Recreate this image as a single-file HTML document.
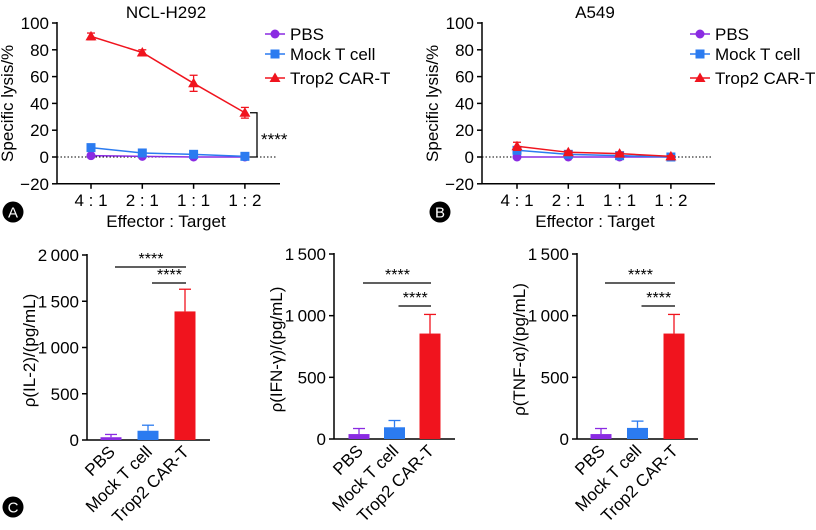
<!DOCTYPE html>
<html><head><meta charset="utf-8">
<style>
body{margin:0;background:#fff;}
svg{display:block;font-family:"Liberation Sans","Noto Sans CJK SC",sans-serif;}
</style></head>
<body>
<svg id="fig" width="816" height="530" viewBox="0 0 816 530"></svg>
<script>
// ---- Data ----
const ratios = ["4 : 1","2 : 1","1 : 1","1 : 2"];
const seriesNames = ["PBS","Mock T cell","Trop2 CAR-T"];
const lysisTicks = [100,80,60,40,20,0,-20];
const h292PBS = [1,0.5,0,0];
const h292Mock = [7,3,2,0.5];
const h292Trop2 = [90,78,55,33];
const h292Trop2Err = [2.5,2,6,4];
const a549PBS = [0,0,0,0];
const a549Mock = [5,2,1,0];
const a549Trop2 = [8,3.5,2.5,0.5];
const a549Trop2Err = [3,1,1,0.5];
const cytoCats = ["PBS","Mock T cell","Trop2 CAR-T"];
const il2Values = [30,100,1390];
const il2Errors = [30,60,240];
const il2Ticks = [0,500,1000,1500,2000];
const ifnValues = [40,95,855];
const ifnErrors = [45,55,155];
const tnfValues = [40,90,855];
const tnfErrors = [45,55,155];
const cyto15Ticks = [0,500,1000,1500];

const NS="http://www.w3.org/2000/svg";
const svg=document.getElementById('fig');
const colors=["#8a2be2","#2b7bf0","#f0141e"];
const FS=17;
function el(tag,attrs,parent,text){const e=document.createElementNS(NS,tag);for(const k in attrs)e.setAttribute(k,attrs[k]);if(text!==undefined)e.textContent=text;(parent||svg).appendChild(e);return e;}
function fmt(v){return v>=1000?String(v).replace(/(\d)(\d{3})$/,"$1\u2009$2"):(v<0?"\u2212"+(-v):String(v));}

function label(cx,cy,ch,name){
  const g=el('g',{});
  
  
  el('circle',{cx:cx,cy:cy,r:10.5,fill:'#000'},g);
  el('text',{x:cx,y:cy+5.5,'text-anchor':'middle','font-size':15,fill:'#fff'},g,ch);
}

function marker(g,type,x,y,c){
  if(type===0) el('circle',{cx:x,cy:y,r:4.5,fill:c},g);
  else if(type===1) el('rect',{x:x-4.5,y:y-4.5,width:9,height:9,fill:c},g);
  else el('polygon',{points:`${x},${y-5.5} ${x+5.5},${y+4} ${x-5.5},${y+4}`,fill:c},g);
}

function linePanel(o){
  const g=el('g',{});
  
  
  const y=v=>o.y0+(v-0)*(o.y100-o.y0)/100;
  const x=i=>o.xs[0]+i*o.dx;
  el('line',{x1:o.ax,y1:y(100)-1,x2:o.ax,y2:y(-20),stroke:'#000','stroke-width':1.5},g);
  el('line',{x1:o.ax,y1:y(-20),x2:o.axEnd,y2:y(-20),stroke:'#000','stroke-width':1.5},g);
  el('line',{x1:o.ax,y1:y(0),x2:o.axEnd-3,y2:y(0),stroke:'#000','stroke-width':1,'stroke-dasharray':'1.5,2'},g);
  lysisTicks.forEach(t=>{
    el('line',{x1:o.ax-5,y1:y(t),x2:o.ax,y2:y(t),stroke:'#000','stroke-width':1.5},g);
    const tl=el('text',{x:o.ax-8,y:y(t)+6,'text-anchor':'end','font-size':FS},g,fmt(t));
    
    
  });
  ratios.forEach((r,i)=>{
    el('line',{x1:x(i),y1:y(-20),x2:x(i),y2:y(-20)+5,stroke:'#000','stroke-width':1.5},g);
    const tl=el('text',{x:x(i),y:y(-20)+22,'text-anchor':'middle','font-size':FS},g,r);
    
    
  });
  const t=el('text',{x:o.titleX,y:18,'text-anchor':'middle','font-size':FS},g,o.title);
  
  
  const yt=el('text',{transform:`translate(${o.ax-44},${y(40)}) rotate(-90)`,'text-anchor':'middle','font-size':FS},g,'Specific lysis/%');
  
  
  const xt=el('text',{x:o.titleX,y:227,'text-anchor':'middle','font-size':FS},g,o.xTitle);
  
  
  const data=[o.pbs,o.mock,o.trop];
  data.forEach((arr,s)=>{
    const sg=el('g',{},g);
    
    
    el('polyline',{points:arr.map((v,i)=>x(i)+','+y(v)).join(' '),fill:'none',stroke:colors[s],'stroke-width':1.5},sg);
    if(s===2){
      arr.forEach((v,i)=>{const e=o.err[i];
        el('line',{x1:x(i),y1:y(v+e),x2:x(i),y2:y(v-e),stroke:colors[s],'stroke-width':1.3},sg);
        el('line',{x1:x(i)-4,y1:y(v+e),x2:x(i)+4,y2:y(v+e),stroke:colors[s],'stroke-width':1.3},sg);
        el('line',{x1:x(i)-4,y1:y(v-e),x2:x(i)+4,y2:y(v-e),stroke:colors[s],'stroke-width':1.3},sg);
      });
    }
    arr.forEach((v,i)=>marker(sg,s,x(i),y(v),colors[s]));
  });
  seriesNames.forEach((n,s)=>{
    const lg=el('g',{},g);
    
    
    const ly=o.legY[s];
    el('line',{x1:o.legX-10,y1:ly,x2:o.legX+10,y2:ly,stroke:colors[s],'stroke-width':1.5},lg);
    marker(lg,s,o.legX,ly,colors[s]);
    el('text',{x:o.legX+15,y:ly+6,'font-size':FS},lg,n);
  });
  if(o.bracket){
    const bg=el('g',{},g);
    
    
    const xb=o.bracket;
    el('polyline',{points:`${xb-7},${y(o.trop[3])} ${xb},${y(o.trop[3])} ${xb},${y(0)} ${xb-7},${y(0)}`,fill:'none',stroke:'#000','stroke-width':1.3},bg);
    el('text',{x:xb+4,y:y(o.trop[3]/2)+10,'font-size':FS},bg,'****');
  }
}

linePanel({name:'chart-ncl-h292',ax:57,axEnd:280,y0:157,y100:23,xs:[91],dx:51.3,pbs:h292PBS,mock:h292Mock,trop:h292Trop2,err:h292Trop2Err,
  title:'NCL-H292',titleX:166,xTitle:'Effector : Target',legX:275,legY:[34,54,78],bracket:257});
linePanel({name:'chart-a549',ax:482,axEnd:715,y0:157,y100:23,xs:[517],dx:51.3,pbs:a549PBS,mock:a549Mock,trop:a549Trop2,err:a549Trop2Err,
  title:'A549',titleX:595,xTitle:'Effector : Target',legX:700,legY:[34,54,78]});
label(13,212,'A','panel-label-a');
label(440,212,'B','panel-label-b');
label(13,507,'C','panel-label-c');

function barPanel(o){
  const g=el('g',{});
  
  
  const max=o.ticks[o.ticks.length-1];
  const y=v=>o.y0-v*(o.y0-o.yTop)/max;
  const x=i=>o.x0+i*o.dx;
  el('line',{x1:o.ax,y1:o.yTop-1,x2:o.ax,y2:o.y0,stroke:'#000','stroke-width':1.5},g);
  el('line',{x1:o.ax,y1:o.y0,x2:o.axEnd,y2:o.y0,stroke:'#000','stroke-width':1.5},g);
  o.ticks.forEach(t=>{
    el('line',{x1:o.ax-5,y1:y(t),x2:o.ax,y2:y(t),stroke:'#000','stroke-width':1.5},g);
    const tl=el('text',{x:o.ax-8,y:y(t)+6,'text-anchor':'end','font-size':FS},g,fmt(t));
    
    
  });
  const yt=el('text',{transform:`translate(${o.ax-52},${(o.y0+o.yTop)/2+3}) rotate(-90)`,'text-anchor':'middle','font-size':FS},g,o.yTitle);
  
  
  cytoCats.forEach((c,i)=>{
    const v=o.values[i],e=o.errors[i],cx=x(i),w=21;
    const b=el('rect',{x:cx-w/2,y:y(v),width:w,height:o.y0-y(v),fill:colors[i]},g);
    
    
    el('line',{x1:cx,y1:y(v),x2:cx,y2:y(v+e),stroke:colors[i],'stroke-width':1.3},g);
    el('line',{x1:cx-6,y1:y(v+e),x2:cx+6,y2:y(v+e),stroke:colors[i],'stroke-width':1.3},g);
    const tl=el('text',{transform:`translate(${cx+5},${o.y0+13}) rotate(-45)`,'text-anchor':'end','font-size':FS},g,c);
    
    
  });
  [[0,o.b1],[1,o.b2]].forEach(([i,yy])=>{
    const bg=el('g',{},g);
    
    
    el('line',{x1:x(i)+4,y1:yy,x2:x(2)+1,y2:yy,stroke:'#000','stroke-width':1.3},bg);
    el('text',{x:(x(i)+x(2))/2+3,y:yy-3,'text-anchor':'middle','font-size':16},bg,'****');
  });
}
barPanel({name:'chart-il2',ax:87,axEnd:210,y0:440,yTop:255,x0:111,dx:37,values:il2Values,errors:il2Errors,ticks:il2Ticks,yTitle:'\u03C1(IL-2)/(pg/mL)',b1:267,b2:283});
barPanel({name:'chart-ifn-gamma',ax:334,axEnd:455,y0:439,yTop:254,x0:359,dx:35.5,values:ifnValues,errors:ifnErrors,ticks:cyto15Ticks,yTitle:'\u03C1(IFN-\u03B3)/(pg/mL)',b1:283,b2:306});
barPanel({name:'chart-tnf-alpha',ax:577,axEnd:698,y0:439,yTop:254,x0:601,dx:36.5,values:tnfValues,errors:tnfErrors,ticks:cyto15Ticks,yTitle:'\u03C1(TNF-\u03B1)/(pg/mL)',b1:283,b2:306});
</script>
</body></html>
